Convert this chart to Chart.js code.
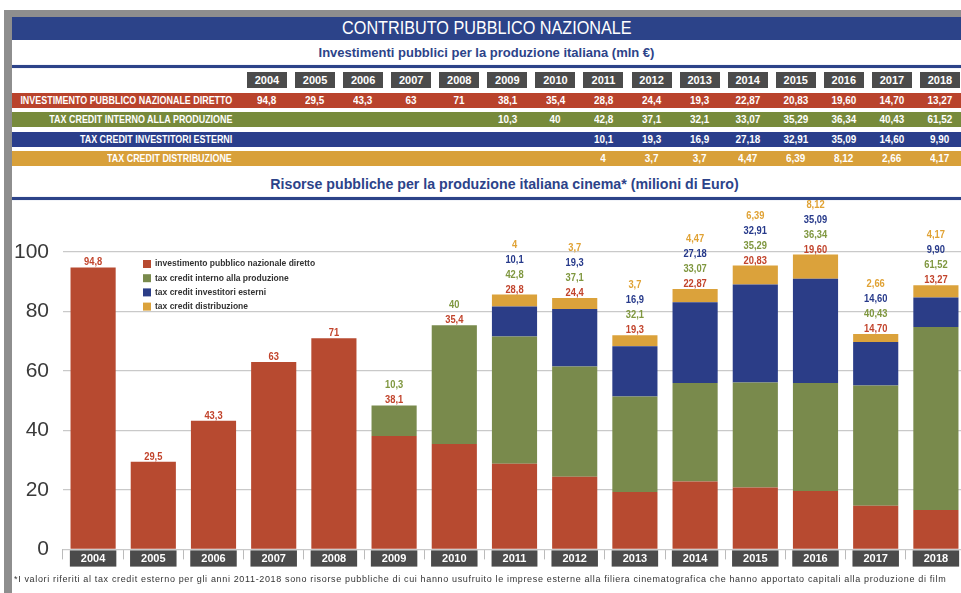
<!DOCTYPE html>
<html>
<head>
<meta charset="utf-8">
<script src="https://cdn.jsdelivr.net/npm/chart.js@4.4.1/dist/chart.umd.min.js"></script>
<style>
  html, body { margin:0; padding:0; background:#fff; width:961px; height:593px; overflow:hidden; position:relative; }
  .abs { position:absolute; }
  .narrow { font-family:"Liberation Sans",sans-serif; }
  .sx { display:inline-block; }
  #frameTop { left:4px; top:10px; width:957px; height:7px; background:#8e8e8e; z-index:5; }
  #frameLeft { left:4px; top:10px; width:8px; height:583px; background:#8e8e8e; z-index:5; }
  #band { left:12px; top:17px; width:949px; height:23px; background:#2c4389; color:#fff; font-size:18px; line-height:23px; text-align:center; }
  #band .sx { transform:scaleX(0.9); }
  #sub { left:12px; top:40px; width:949px; height:25px; color:#2c4389; font-family:"Liberation Sans",sans-serif; font-weight:bold; font-size:13px; line-height:25px; text-align:center; }
  .bline { left:12px; width:949px; height:3px; background:#2c4389; box-shadow:0 0 1px #7f90c0; }
  .yearbox { top:72px; width:40px; height:16px; background:#4b4b4b; color:#fff; font-weight:bold; font-size:11px; line-height:16px; text-align:center; }
  .row { left:12px; width:949px; height:15px; }
  .rowlab { right:729px; color:#fff; font-weight:bold; font-size:10.5px; line-height:15px; white-space:nowrap; text-align:right; transform:scaleX(0.85); transform-origin:right center; }
  .cell { width:48px; color:#fff; font-weight:bold; font-size:11px; line-height:15px; text-align:center; }
  .cell .sx { transform:scaleX(0.9); }
  #ctitle { left:12px; top:172px; width:949px; height:24px; color:#2c4389; font-family:"Liberation Sans",sans-serif; font-weight:bold; font-size:14.2px; line-height:24px; text-align:center; padding-left:36px; box-sizing:border-box; }
  #chartBox { left:0; top:200px; width:970px; height:376px; }
  #foot { left:14px; top:572px; width:1200px; color:#333; font-family:"Liberation Sans",sans-serif; font-size:9px; letter-spacing:0.65px; line-height:14px; white-space:nowrap; }
</style>
</head>
<body>
<div id="frameTop" class="abs"></div>
<div id="frameLeft" class="abs"></div>
<div id="band" class="abs narrow"><span class="sx">CONTRIBUTO PUBBLICO NAZIONALE</span></div>
<div id="sub" class="abs">Investimenti pubblici per la produzione italiana (mln €)</div>
<div class="abs bline" style="top:65px"></div>
<div id="table"></div>
<div id="ctitle" class="abs">Risorse pubbliche per la produzione italiana cinema* (milioni di Euro)</div>
<div class="abs bline" style="top:197px"></div>
<div id="chartBox" class="abs"><canvas id="c" width="970" height="376"></canvas></div>
<div id="foot" class="abs">*I valori riferiti al tax credit esterno per gli anni 2011-2018 sono risorse pubbliche di cui hanno usufruito le imprese esterne alla filiera cinematografica che hanno apportato capitali alla produzione di film</div>

<script>
// ---------------- DATA ----------------
const years = ['2004','2005','2006','2007','2008','2009','2010','2011','2012','2013','2014','2015','2016','2017','2018'];
const investimentoDiretto = [94.8, 29.5, 43.3, 63, 71, 38.1, 35.4, 28.8, 24.4, 19.3, 22.87, 20.83, 19.60, 14.70, 13.27];
const taxCreditInterno    = [null, null, null, null, null, 10.3, 40, 42.8, 37.1, 32.1, 33.07, 35.29, 36.34, 40.43, 61.52];
const taxCreditEsterni    = [null, null, null, null, null, null, null, 10.1, 19.3, 16.9, 27.18, 32.91, 35.09, 14.60, 9.90];
const taxCreditDistrib    = [null, null, null, null, null, null, null, 4, 3.7, 3.7, 4.47, 6.39, 8.12, 2.66, 4.17];
const legendLabels = ['investimento pubblico nazionale diretto', 'tax credit interno alla produzione', 'tax credit investitori esterni', 'tax credit distribuzione'];
const rowLabels = ['INVESTIMENTO PUBBLICO NAZIONALE DIRETTO', 'TAX CREDIT INTERNO ALLA PRODUZIONE', 'TAX CREDIT INVESTITORI ESTERNI', 'TAX CREDIT DISTRIBUZIONE'];
const yTickValues = [0, 20, 40, 60, 80, 100];

// ---------------- STYLE ----------------
const series = [investimentoDiretto, taxCreditInterno, taxCreditEsterni, taxCreditDistrib];
const barColors = ['#b74a30', '#798a4c', '#2b3d87', '#dba23b'];
const rowColors = ['#b9432c', '#778a3b', '#2a3e8b', '#d8a03a'];
const labelColors = ['#c2442c', '#7f973f', '#26398a', '#e0a234'];
const FONT = '"Liberation Sans", sans-serif';

function fmt(v, i) {
  const s = (parseInt(years[i]) >= 2014) ? v.toFixed(2) : String(v);
  return s.replace('.', ',');
}

// ---------------- TABLE (HTML) ----------------
const table = document.getElementById('table');
const colStart = 267, colStep = 48.07;
years.forEach((y, i) => {
  const d = document.createElement('div');
  d.className = 'abs yearbox narrow';
  d.style.left = (colStart + i * colStep - 20) + 'px';
  d.textContent = y;
  table.appendChild(d);
});
const rowTops = [93, 112, 132, 151];
series.forEach((arr, r) => {
  const row = document.createElement('div');
  row.className = 'abs row';
  row.style.top = rowTops[r] + 'px';
  row.style.background = rowColors[r];
  table.appendChild(row);
  const lab = document.createElement('div');
  lab.className = 'abs rowlab narrow';
  lab.style.top = rowTops[r] + 'px';
  lab.textContent = rowLabels[r];
  table.appendChild(lab);
  arr.forEach((v, i) => {
    if (v === null) return;
    const c = document.createElement('div');
    c.className = 'abs cell narrow';
    c.style.top = rowTops[r] + 'px';
    c.style.left = (colStart + i * colStep - 24) + 'px';
    const s = document.createElement('span');
    s.className = 'sx';
    s.textContent = fmt(v, i);
    c.appendChild(s);
    table.appendChild(c);
  });
});

// ---------------- CHART ----------------
const stackLabels = {
  id: 'stackLabels',
  afterDatasetsDraw(chart) {
    const ctx = chart.ctx;
    const yScale = chart.scales.y;
    ctx.save();
    ctx.font = 'bold 11px ' + FONT;
    ctx.textAlign = 'center';
    ctx.textBaseline = 'middle';
    years.forEach((yr, i) => {
      let total = 0;
      const present = [];
      chart.data.datasets.forEach((ds, d) => {
        const v = ds.data[i];
        if (v !== null && v !== undefined) { total += v; present.push(d); }
      });
      const x = chart.getDatasetMeta(0).data[i].x;
      const top = yScale.getPixelForValue(total);
      present.forEach((d, k) => {
        ctx.save();
        ctx.translate(x, top - 5 - k * 15);
        ctx.scale(0.85, 1);
        ctx.fillStyle = labelColors[d];
        ctx.fillText(fmt(chart.data.datasets[d].data[i], i), 0, 0);
        ctx.restore();
      });
    });
    ctx.restore();
  }
};

const innerLegend = {
  id: 'innerLegend',
  afterDraw(chart) {
    const ctx = chart.ctx;
    const a = chart.chartArea;
    ctx.save();
    ctx.font = 'bold 8.5px ' + FONT;
    ctx.textBaseline = 'middle';
    ctx.textAlign = 'left';
    chart.data.datasets.forEach((ds, d) => {
      const x0 = a.left + 80, y0 = a.top + 12 + d * 14.2;
      ctx.fillStyle = ds.backgroundColor;
      ctx.fillRect(x0, y0 - 4, 8, 8);
      ctx.fillStyle = '#333';
      ctx.fillText(ds.label, x0 + 12, y0);
    });
    ctx.restore();
  }
};

new Chart(document.getElementById('c'), {
  type: 'bar',
  data: {
    labels: years,
    datasets: series.map((arr, d) => ({
      label: legendLabels[d],
      data: arr,
      backgroundColor: barColors[d],
      borderWidth: 0,
      barPercentage: 0.75,
      categoryPercentage: 1.0
    }))
  },
  options: {
    responsive: false,
    animation: false,
    events: [],
    layout: { padding: { top: 52, bottom: 3, left: 0, right: 4 } },
    plugins: { legend: { display: false }, tooltip: { enabled: false } },
    scales: {
      x: {
        stacked: true,
        border: { display: false },
        grid: { display: true, drawOnChartArea: false, drawTicks: true, tickLength: 10, color: '#bbbbbb', offset: true },
        ticks: {
          color: '#ffffff',
          font: { family: FONT, size: 11, weight: 'bold' },
          padding: -7,
          showLabelBackdrop: true,
          backdropColor: '#4b4b4b',
          backdropPadding: { top: 2, bottom: 1, left: 11, right: 11 },
          maxRotation: 0, autoSkip: false
        },
        afterFit(scale) { scale.height = 20; }
      },
      y: {
        stacked: true,
        min: 0, max: 100,
        border: { display: false },
        grid: { color: '#c9c9c9', lineWidth: 1.3, drawTicks: false },
        afterBuildTicks(scale) { scale.ticks = yTickValues.map(v => ({ value: v })); },
        ticks: {
          color: '#3a3a3a',
          font: { family: FONT, size: 21 },
          padding: 14
        },
        afterFit(scale) { scale.width = 63; }
      }
    }
  },
  plugins: [stackLabels, innerLegend]
});
</script>
</body>
</html>
